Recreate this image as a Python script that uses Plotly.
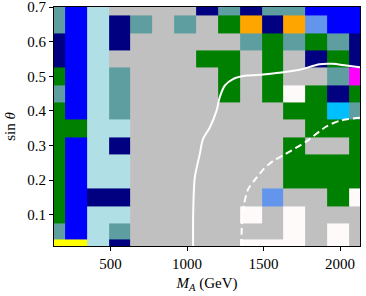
import plotly.graph_objects as go

# Grid of mass points (GeV) and sin(theta) values
mass_points = [130 + k * 2000 / 14 for k in range(15)]
sin_points = [0.01, 0.05, 0.10, 0.15, 0.20, 0.25, 0.30, 0.35, 0.40, 0.45, 0.50, 0.55, 0.60, 0.65, 0.70]

# Category codes per row, top (sin=0.70) to bottom (sin=0.01)
rows_top_to_bottom = [
    "TBLSSSSNTNTTBBB",
    "TBLNTSTSGONOCBB",
    "NBLNSSSSSTGTGTN",
    "NBLSSSSGGSGSNGN",
    "GBLTSSSSGSGSSTM",
    "TBLTSSSSGSGWGNG",
    "GBLTSSSSSSSGGDT",
    "GGLLSSSSSSSSGGG",
    "GBLNSSSSSSSGSSG",
    "GBLLSSSSSSSGGGG",
    "GBLLSSSSSSSGGGG",
    "GBNNSSSSSSCSSGW",
    "GBLLSSSSSWSWSSS",
    "TBLTSSSSSSSWSWS",
    "YYLNSSSSSWWWSWS",
]

category_codes = ["B", "L", "N", "T", "S", "G", "O", "C", "Y", "M", "D", "W"]
category_colors = ["#0000FF", "#B0E0E6", "#000080", "#5F9EA0", "#C0C0C0", "#008000",
                   "#FFA500", "#6495ED", "#FFFF00", "#FF00FF", "#00BFFF", "#FFFAFA"]

# Boundary curves
solid_mass = [1039, 1040, 1050, 1083, 1104, 1148, 1192, 1213, 1246, 1300, 1388, 1496, 1600, 1736, 1866, 1951, 2040, 2130]
solid_sin = [0.01, 0.11, 0.207, 0.276, 0.319, 0.352, 0.40, 0.439, 0.473, 0.492, 0.502, 0.505, 0.51, 0.519, 0.535, 0.536, 0.531, 0.526]
dashed_mass = [1355, 1358, 1372, 1400, 1450, 1500, 1560, 1640, 1780, 1910, 2000, 2130]
dashed_sin = [0.01, 0.07, 0.13, 0.175, 0.205, 0.232, 0.255, 0.275, 0.312, 0.355, 0.372, 0.38]

x_ticks = [500, 1000, 1500, 2000]
y_ticks = [0.1, 0.2, 0.3, 0.4, 0.5, 0.6, 0.7]

code_index = {c: i for i, c in enumerate(category_codes)}
z = [[code_index[ch] for ch in row] for row in reversed(rows_top_to_bottom)]

n = len(category_colors)
colorscale = []
for i, col in enumerate(category_colors):
    colorscale.append([i / n, col])
    colorscale.append([(i + 1) / n, col])

fig = go.Figure()
fig.add_trace(go.Heatmap(
    x=mass_points, y=sin_points, z=z,
    colorscale=colorscale, zmin=-0.5, zmax=n - 0.5,
    showscale=False, hoverinfo="skip",
))
fig.add_trace(go.Scatter(
    x=solid_mass, y=solid_sin, mode="lines",
    line=dict(color="white", width=2, shape="spline", smoothing=0.8),
    showlegend=False, hoverinfo="skip",
))
fig.add_trace(go.Scatter(
    x=dashed_mass, y=dashed_sin, mode="lines",
    line=dict(color="white", width=2, dash="7px,4px", shape="spline", smoothing=0.8),
    showlegend=False, hoverinfo="skip",
))

font_family = "Liberation Serif, DejaVu Serif, serif"
fig.update_layout(
    width=366, height=296,
    margin=dict(l=54, r=6, t=7, b=50),
    paper_bgcolor="white", plot_bgcolor="white",
    font=dict(family=font_family, size=15, color="black"),
    showlegend=False,
)
fig.update_xaxes(
    range=[130, 2130], tickvals=x_ticks, ticks="outside", ticklen=4, tickcolor="black",
    showline=True, linecolor="black", linewidth=1, mirror=True, showgrid=False, zeroline=False,
    automargin=False, ticklabeloverflow="allow",
    title=dict(text="<i>M</i><sub><i>A</i></sub> (GeV)", standoff=6, font=dict(size=15)),
)
fig.update_yaxes(
    range=[0.0099, 0.7001], tickvals=y_ticks, ticktext=[f"{v:.1f}" for v in y_ticks],
    ticks="outside", ticklen=4, tickcolor="black",
    showline=True, linecolor="black", linewidth=1, mirror=True, showgrid=False, zeroline=False,
    automargin=False, ticklabeloverflow="allow",
    title=dict(text="sin <i>θ</i>", standoff=8, font=dict(size=15)),
)

fig.write_html("out.html", config={"displayModeBar": False},
               post_script="document.body.style.margin='0px';")
